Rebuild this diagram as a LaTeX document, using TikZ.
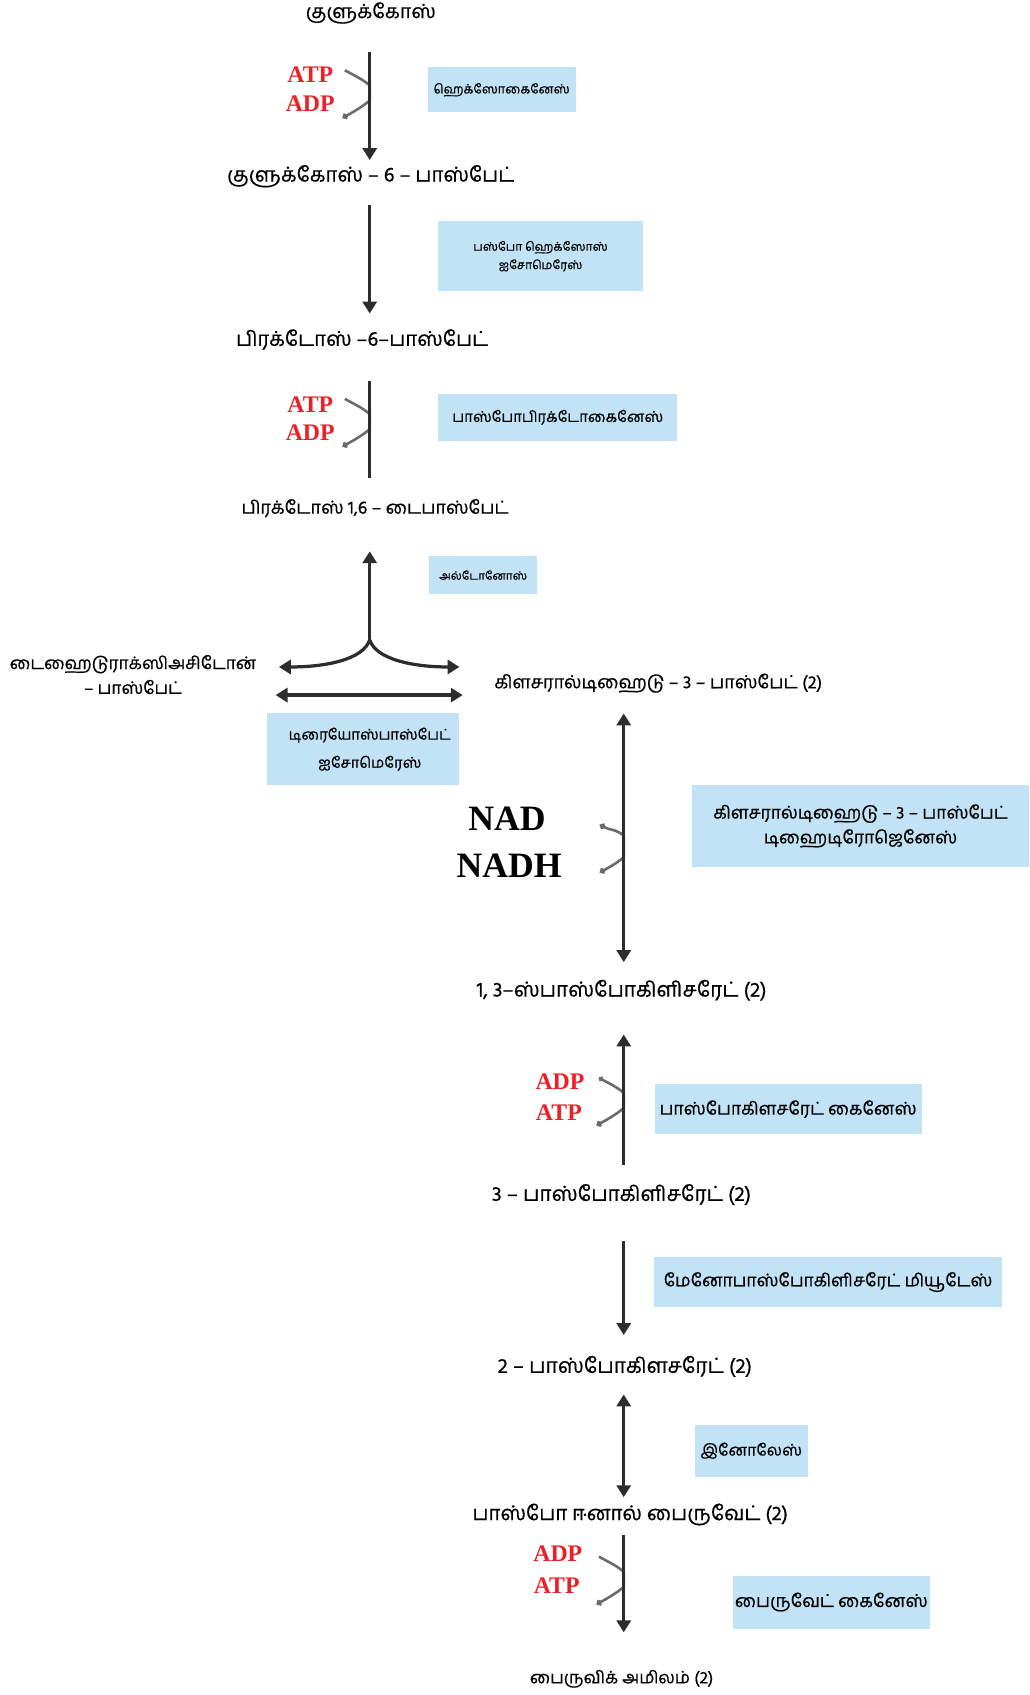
\documentclass[tikz,border=0pt]{standalone}
\usepackage{fontspec}
\newfontfamily\tafont[Script=Tamil, FakeBold=0.6]{Hind Madurai}
\newfontfamily\cofont{Liberation Serif}
\usetikzlibrary{arrows.meta,calc}
\definecolor{enzblue}{RGB}{194,226,246}
\definecolor{cored}{RGB}{236,32,39}
\definecolor{stem}{RGB}{45,45,45}
\tikzset{metab/.style={font=\tafont\fontsize{#1}{23}\selectfont, inner sep=0pt, align=center},
         metab/.default=17}
\tikzstyle{enzyme}=[fill=enzblue, inner sep=0pt, align=center]
\tikzstyle{cofac}=[font=\cofont\bfseries\fontsize{22}{24}\selectfont, text=cored, inner sep=0pt]
\tikzstyle{bigcofac}=[font=\cofont\bfseries\fontsize{33}{36}\selectfont, inner sep=0pt]
\tikzstyle{rxn}=[draw=stem, line width=3pt]
\tikzstyle{side}=[draw=black!58, line width=2.4pt]

\begin{document}
\begin{tikzpicture}[x=1pt, y=-1pt, >={Triangle[width=13pt,length=11pt]}]
    \useasboundingbox (0,0) rectangle (952,1568);
    % the two columns the stems run down
    \coordinate (colA) at (342,0);
    \coordinate (colB) at (577,0);
    % First the metabolites, top to bottom
    \node[metab=18]   (glc)  at (343,12)   {குளுக்கோஸ்};
    \node[metab=18.8] (g6p)  at (343,163)  {குளுக்கோஸ் – 6 – பாஸ்பேட்};
    \node[metab=18.8] (f6p)  at (335,314)  {பிரக்டோஸ் –6–பாஸ்பேட்};
    \node[metab=16.6] (fbp)  at (347,470)  {பிரக்டோஸ் 1,6 – டைபாஸ்பேட்};
    \node[metab=16]   (dhap) at (123,624)  {டைஹைடுராக்ஸிஅசிடோன்\\– பாஸ்பேட்};
    \node[metab=16.7] (g3p)  at (609,632)  {கிளசரால்டிஹைடு – 3 – பாஸ்பேட் (2)};
    \node[metab=19.1] (bpg)  at (575,916)  {1, 3–ஸ்பாஸ்போகிளிசரேட் (2)};
    \node[metab=19.2] (pg3)  at (575,1105) {3 – பாஸ்போகிளிசரேட் (2)};
    \node[metab=19.2] (pg2)  at (578,1264) {2 – பாஸ்போகிளசரேட் (2)};
    \node[metab=18.8] (pep)  at (583,1401) {பாஸ்போ ஈனால் பைருவேட் (2)};
    \node[metab=15.8] (pyr)  at (575,1553) {பைருவிக் அமிலம் (2)};
    % enzyme boxes
    \foreach \pos/\name/\bw/\bh/\tsz/\lsk/\txt in {
        {(464,83)}/hexo/137/42/11.8/15/{ஹெக்ஸோகைனேஸ்},
        {(500,237)}/phi/189/65/11.1/17/{பஸ்போ ஹெக்ஸோஸ்\\ஐசோமெரேஸ்},
        {(516,386)}/pfkbox/221/43/13.8/18/{பாஸ்போபிரக்டோகைனேஸ்},
        {(447,532)}/ald/100/35/10.6/14/{அல்டோனோஸ்},
        {(336,693)}/tpi/178/67/13.7/26/{\hspace*{12pt}டிரையோஸ்பாஸ்பேட்\\\hspace*{12pt}ஐசோமெரேஸ்},
        {(796,764)}/gapdh/311/76/16.2/23/{கிளசரால்டிஹைடு – 3 – பாஸ்பேட்\\டிஹைடிரோஜெனேஸ்},
        {(729,1026)}/pgkbox/247/46/16.2/19/{பாஸ்போகிளசரேட் கைனேஸ்},
        {(766,1186)}/pgm/322/47/16.1/20/{மேனோபாஸ்போகிளிசரேட் மியூடேஸ்},
        {(695,1342)}/eno/104/48/14.7/19/{இனோலேஸ்},
        {(769,1482)}/pyk/182/49/16.4/20/{பைருவேட் கைனேஸ்}}
        \node[enzyme, minimum width=\bw, minimum height=\bh,
              font=\tafont\fontsize{\tsz}{\lsk}\selectfont] (\name) at \pos {\txt};
    % side arms for the cofactors (drawn first, the stems go over them)
    \coordinate (jhk)  at (342,86);
    \coordinate (jpfk) at (342,390);
    \coordinate (jdh)  at (577,783);
    \coordinate (jpgk) at (577,1018);
    \coordinate (jpk)  at (577,1461);
    \foreach \j/\top/\bot/\tpos/\bpos/\tips in {
        jhk/ATP/ADP/{(287,69)}/{(287,96)}/{-{Circle[length=5.5pt]}},
        jpfk/ATP/ADP/{(287,374)}/{(287,400)}/{-{Circle[length=5.5pt]}},
        jpgk/ADP/ATP/{(518,1001)}/{(517,1029)}/{{Circle[length=4.5pt]}-{Circle[length=5.5pt]}},
        jpk/ADP/ATP/{(516,1437)}/{(515,1467)}/{-{Circle[length=5.5pt]}}}
    {
        \node[cofac] (\j top) at \tpos {\top};
        \node[cofac] (\j bot) at \bpos {\bot};
        \draw[side, \tips] ($(\j)+(-23,-21)$) .. controls +(9,5) and +(-7,-6) .. ($(\j)+(0,-7)$)
              -- ($(\j)+(0,7)$) .. controls +(-7,6) and +(9,-5) .. ($(\j)+(-25,23)$);
    }
    \node[bigcofac] (nad)  at (469,757) {NAD};
    \node[bigcofac] (nadh) at (471,801) {NADH};
    \draw[side, {Circle[length=5.5pt]}-{Circle[length=5.5pt]}] ($(jdh)+(-22,-20)$)
          .. controls +(9,5) and +(-7,-6) .. ($(jdh)+(0,-10)$) -- ($(jdh)+(0,10)$)
          .. controls +(-7,6) and +(9,-5) .. ($(jdh)+(-22,24)$);
    % stems of the first column
    \draw[rxn, ->, shorten <=36pt, shorten >=15pt] (colA |- glc) -- (colA |- g6p);
    \draw[rxn, ->, shorten <=27pt, shorten >=24pt] (colA |- g6p) -- (colA |- f6p);
    \draw[rxn, shorten <=38pt, shorten >=28pt] (colA |- f6p) -- (colA |- fbp);
    % aldolase fork
    \coordinate (fork) at (342,592);
    \coordinate (forkL) at (258,617);
    \coordinate (forkR) at (425,617);
    \draw[rxn, ->, shorten >=40pt] (fork) -- (colA |- fbp);
    \draw[rxn, ->] (fork) .. controls (336,610) and (302,617) .. (forkL);
    \draw[rxn, ->] (fork) .. controls (348,610) and (382,617) .. (forkR);
    \coordinate (tpiL) at (255,643);
    \coordinate (tpiR) at (428,643);
    \draw[rxn, <->] (tpiL) -- (tpiR);
    % stems of the second column
    \draw[rxn, <->, shorten <=28pt, shorten >=26pt] (colB |- g3p) -- (colB |- bpg);
    \draw[rxn, <-, shorten <=41pt, shorten >=27pt] (colB |- bpg) -- (colB |- pg3);
    \draw[rxn, ->, shorten <=43pt, shorten >=29pt] (colB |- pg3) -- (colB |- pg2);
    \draw[rxn, <->, shorten <=26pt, shorten >=16pt] (colB |- pg2) -- (colB |- pep);
    \draw[rxn, ->, shorten <=19pt, shorten >=43pt] (colB |- pep) -- (colB |- pyr);
\end{tikzpicture}
\end{document}
